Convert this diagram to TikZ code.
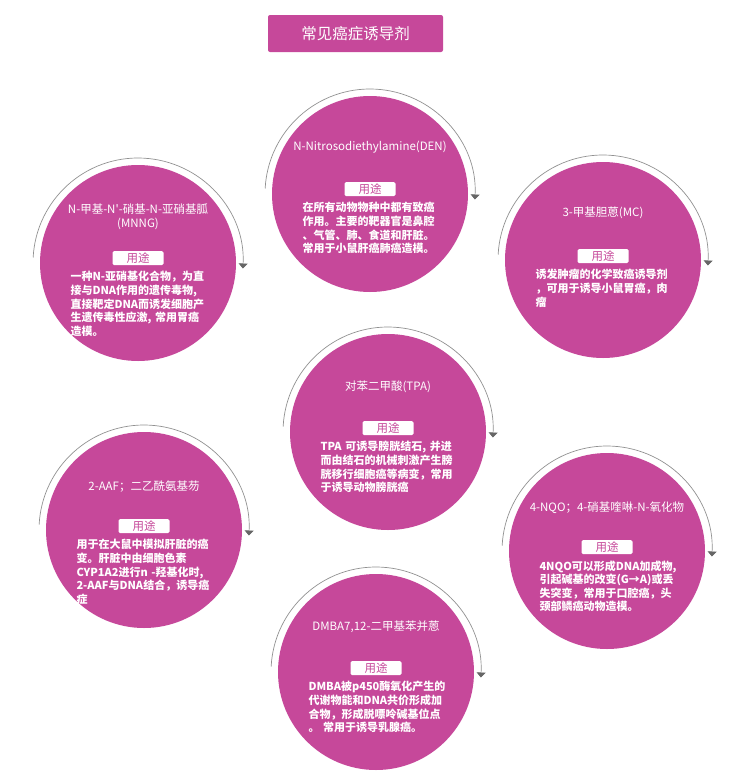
\documentclass[tikz,border=0pt]{standalone}
\usepackage{fontspec}
\setmainfont{Noto Sans CJK SC}
\usetikzlibrary{arrows.meta,positioning}
\definecolor{rose}{RGB}{198,72,154}
\definecolor{ringgray}{RGB}{145,145,145}
\tikzset{
  agent/.style={circle,fill=rose,minimum size=196pt,inner sep=0pt},
  drugname/.style={text=white,align=center,inner sep=0pt,font=\fontsize{11.5}{14}\selectfont},
  usetag/.style={fill=white,rounded corners=1.5pt,text=rose,minimum width=51pt,minimum height=14pt,inner sep=0pt,font=\fontsize{11.5}{12}\selectfont},
  usetext/.style={text=white,text width=135pt,align=left,inner sep=0pt,font=\bfseries\fontsize{11}{13.6}\selectfont},
  ring/.style={draw=ringgray,line width=0.7pt,-{Triangle[width=9pt,length=5pt,color=black!60]}}
}
\begin{document}
\begin{tikzpicture}[x=1pt,y=-1pt]
  \useasboundingbox (0,0) rectangle (754,777);
  \node[fill=rose,rounded corners=2pt,minimum width=175pt,minimum height=37pt,text=white,font=\fontsize{15.5}{16}\selectfont] (title) at (355.5,33.5) {常见癌症诱导剂};
  \draw
    (370,194) node[agent] (den){}
    (138,263) node[agent] (mnng){}
    (603,260) node[agent] (mc){}
    (388,432) node[agent] (tpa){}
    (144,530) node[agent] (aaf){}
    (607,551) node[agent] (nqo){}
    (376,672) node[agent] (dmba){};
  \begin{scope}[ring]
    \foreach \n in {den,mnng,mc,tpa,aaf,nqo,dmba}
      \draw ([shift={(-177:105)}]\n.center) arc[start angle=-177,end angle=3,radius=105];
  \end{scope}
  \node[drugname] (denname) at ([yshift=47pt]den.center) {N-Nitrosodiethylamine(DEN)};
  \node[usetag] (dentag) at ([yshift=5pt]den.center) {用途};
  \node[usetext,below=6pt of dentag] (denuse) {在所有动物物种中都有致癌\\作用。主要的靶器官是鼻腔\\、气管、肺、食道和肝脏。\\常用于小鼠肝癌肺癌造模。};
  \node[drugname] (mnngname) at ([yshift=46pt]mnng.center) {N-甲基-N\textquotesingle-硝基-N-亚硝基胍\\(MNNG)};
  \node[usetag] (mnngtag) at ([yshift=5pt]mnng.center) {用途};
  \node[usetext,below=6pt of mnngtag] (mnnguse) {一种N-亚硝基化合物，为直\\接与DNA作用的遗传毒物,\\直接靶定DNA而诱发细胞产\\生遗传毒性应激, 常用胃癌\\造模。};
  \node[drugname] (mcname) at ([yshift=47pt]mc.center) {3-甲基胆蒽(MC)};
  \node[usetag] (mctag) at ([yshift=4pt]mc.center) {用途};
  \node[usetext,below=6pt of mctag] (mcuse) {诱发肿瘤的化学致癌诱导剂\\，可用于诱导小鼠胃癌，肉\\瘤};
  \node[drugname] (tpaname) at ([yshift=45pt]tpa.center) {对苯二甲酸(TPA)};
  \node[usetag] (tpatag) at ([yshift=4pt]tpa.center) {用途};
  \node[usetext,below=6pt of tpatag] (tpause) {TPA 可诱导膀胱结石, 并进\\而由结石的机械刺激产生膀\\胱移行细胞癌等病变，常用\\于诱导动物膀胱癌};
  \node[drugname] (aafname) at ([yshift=43pt]aaf.center) {2-AAF；二乙酰氨基芴};
  \node[usetag] (aaftag) at ([yshift=4pt]aaf.center) {用途};
  \node[usetext,below=6pt of aaftag] (aafuse) {用于在大鼠中模拟肝脏的癌\\变。肝脏中由细胞色素\\CYP1A2进行n -羟基化时,\\2-AAF与DNA结合，诱导癌\\症};
  \node[drugname] (nqoname) at ([yshift=43pt]nqo.center) {4-NQO；4-硝基喹啉-N-氧化物};
  \node[usetag] (nqotag) at ([yshift=4pt]nqo.center) {用途};
  \node[usetext,below=6pt of nqotag] (nqouse) {4NQO可以形成DNA加成物,\\引起碱基的改变(G→A)或丢\\失突变，常用于口腔癌，头\\颈部鳞癌动物造模。};
  \node[drugname] (dmbaname) at ([yshift=45pt]dmba.center) {DMBA7,12-二甲基苯并蒽};
  \node[usetag] (dmbatag) at ([yshift=4pt]dmba.center) {用途};
  \node[usetext,below=6pt of dmbatag] (dmbause) {DMBA被p450酶氧化产生的\\代谢物能和DNA共价形成加\\合物，形成脱嘌呤碱基位点\\。 常用于诱导乳腺癌。};
\end{tikzpicture}
\end{document}
